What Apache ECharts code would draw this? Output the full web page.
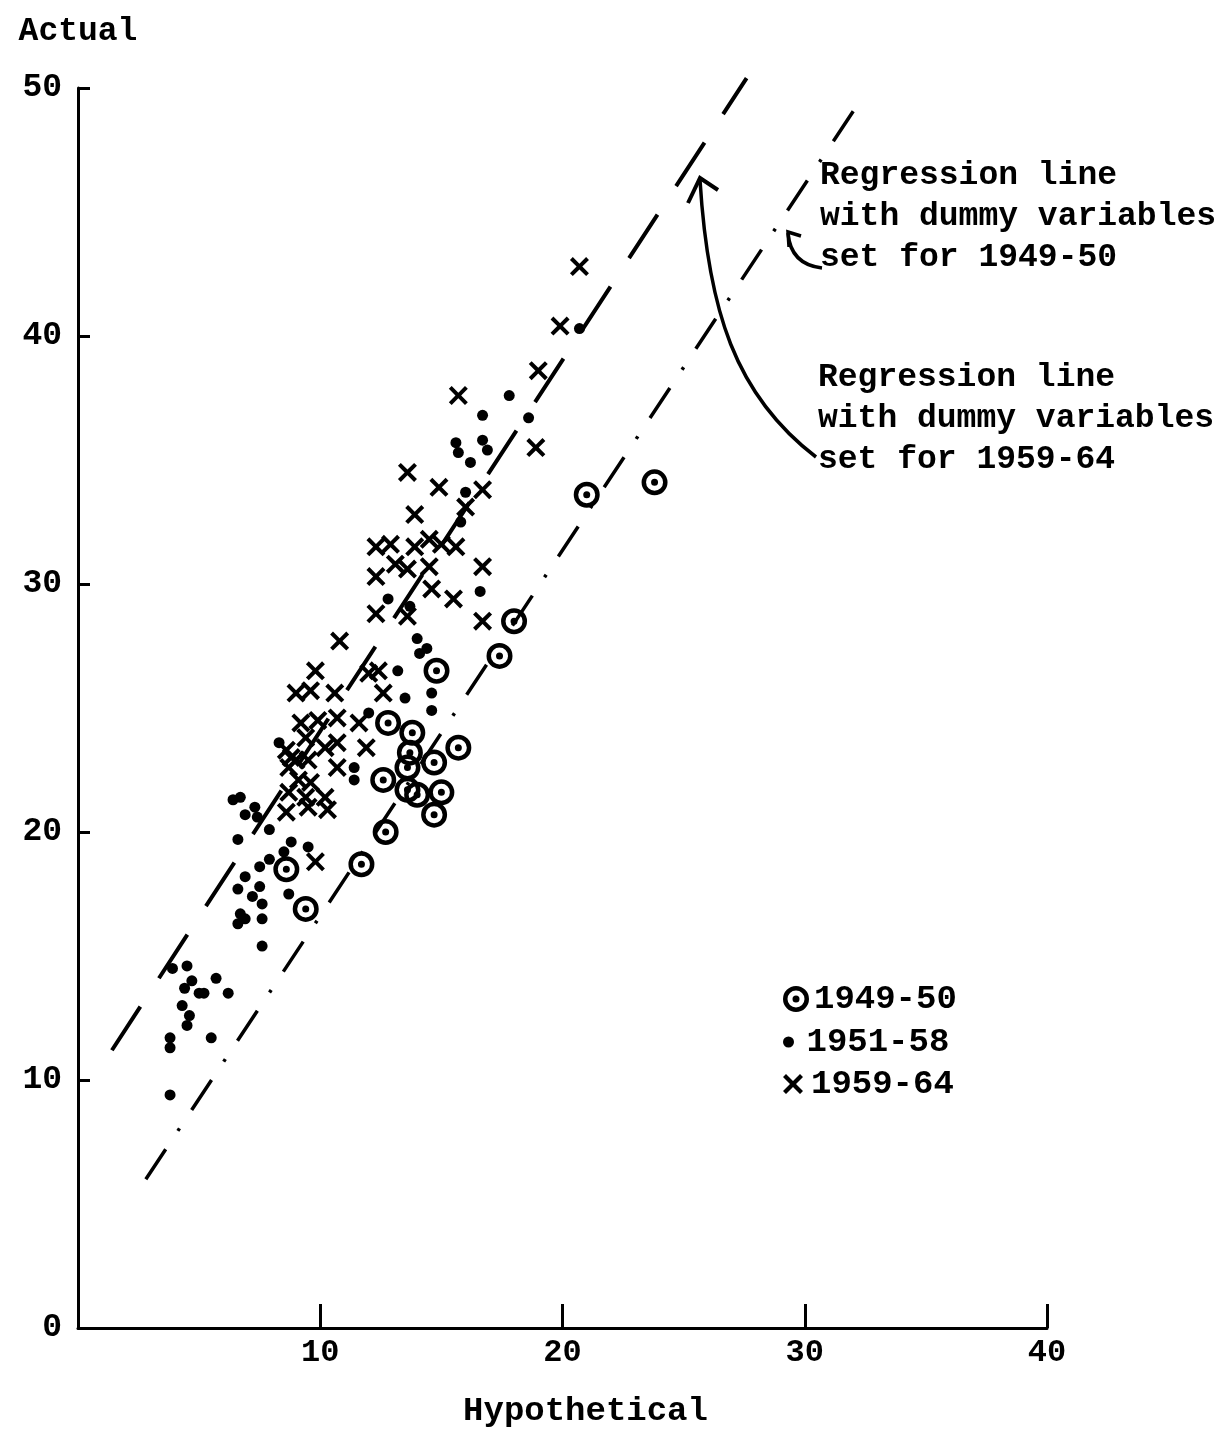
<!doctype html>
<html lang="en">
<head>
<meta charset="UTF-8">
<title>Actual vs Hypothetical</title>
<script src="https://cdn.jsdelivr.net/npm/echarts@6/dist/echarts.min.js"></script>
<style>
  html, body { margin: 0; padding: 0; background: #fff; }
  #chart { width: 1230px; height: 1434px; }
</style>
</head>
<body>
<div id="chart"></div>
<script>
// series names (legend)
var seriesNames = ['1949-50', '1951-58', '1959-64'];

// 1949-50 (circled dots)
var group4950 = [
  [21.0, 33.6], [23.8, 34.1], [18.0, 28.5], [17.4, 27.1], [14.8, 26.5],
  [12.8, 24.4], [15.7, 23.4], [13.8, 24.0], [13.7, 23.2], [13.6, 22.6],
  [14.7, 22.8], [12.6, 22.1], [13.6, 21.7], [14.0, 21.5], [15.0, 21.6],
  [14.7, 20.7], [12.7, 20.0], [11.7, 18.7], [8.6, 18.5], [9.4, 16.9]
];

// 1951-58 (dots)
var group5158 = [
  [17.8, 37.6], [16.7, 36.8], [18.6, 36.7], [15.6, 35.7], [16.7, 35.8],
  [16.9, 35.4], [15.7, 35.3], [16.2, 34.9], [16.0, 33.7], [15.8, 32.5],
  [16.6, 29.7], [12.8, 29.4], [13.7, 29.1], [14.0, 27.8], [14.4, 27.4],
  [14.1, 27.2], [13.2, 26.5], [14.6, 25.6], [14.6, 24.9], [13.5, 25.4],
  [12.0, 24.8], [11.4, 22.6], [11.4, 22.1], [8.3, 23.6], [20.7, 40.3],
  [6.4, 21.3], [6.7, 21.4], [6.9, 20.7], [7.3, 21.0], [7.4, 20.6],
  [7.9, 20.1], [6.6, 19.7], [8.8, 19.6], [9.5, 19.4], [8.5, 19.2],
  [7.9, 18.9], [7.5, 18.6], [6.9, 18.2], [7.5, 17.8], [6.6, 17.7],
  [7.2, 17.4], [7.6, 17.1], [8.7, 17.5], [6.7, 16.7], [7.6, 16.5],
  [6.6, 16.3], [6.9, 16.5], [7.6, 15.4], [3.9, 14.5], [4.5, 14.6],
  [4.7, 14.0], [5.7, 14.1], [6.2, 13.5], [4.4, 13.7], [5.0, 13.5],
  [5.2, 13.5], [4.3, 13.0], [4.6, 12.6], [4.5, 12.2], [5.5, 11.7],
  [3.8, 11.7], [3.8, 11.3], [3.8, 9.4]
];

// 1959-64 (crosses)
var group5964 = [
  [20.7, 42.8], [19.9, 40.4], [19.0, 38.6], [18.9, 35.5], [15.7, 37.6],
  [13.6, 34.5], [14.9, 33.9], [16.7, 33.8], [16.0, 33.1], [13.9, 32.8],
  [12.3, 31.5], [12.9, 31.6], [13.9, 31.5], [14.5, 31.8], [15.0, 31.6],
  [15.6, 31.5], [13.1, 30.8], [13.6, 30.6], [14.5, 30.7], [12.3, 30.3],
  [16.7, 30.7], [14.6, 29.8], [15.5, 29.4], [12.3, 28.8], [13.6, 28.7],
  [16.7, 28.5], [10.8, 27.7], [12.4, 26.5], [12.0, 26.4], [12.6, 25.6],
  [9.8, 26.5], [9.0, 25.6], [9.6, 25.7], [10.6, 25.6], [10.7, 24.6],
  [11.6, 24.4], [9.2, 24.4], [9.9, 24.5], [11.9, 23.4], [10.7, 23.6],
  [10.2, 23.4], [9.4, 23.8], [8.8, 23.0], [9.5, 22.9], [10.7, 22.6],
  [9.1, 22.1], [9.6, 22.0], [8.7, 21.6], [9.4, 21.4], [10.2, 21.4],
  [8.6, 20.8], [9.5, 21.0], [10.3, 20.9], [9.8, 18.8], [9.0, 22.9],
  [8.7, 22.6], [8.6, 23.3]
];

// regression lines (end points)
var line5964 = [[1.4, 11.2], [27.6, 50.4]];
var line4950 = [[2.8, 6.0], [32.5, 49.8]];

var FONT = '"Liberation Mono", "DejaVu Sans Mono", monospace';

var ringPath = 'path://M13,0 A13,13 0 1,1 13,26 A13,13 0 1,1 13,0 Z M13,4.5 A8.5,8.5 0 1,0 13,21.5 A8.5,8.5 0 1,0 13,4.5 Z M13,9.5 A3.5,3.5 0 1,1 13,16.5 A3.5,3.5 0 1,1 13,9.5 Z';
var crossPath = 'path://M0,3 L3,0 L10,7 L17,0 L20,3 L13,10 L20,17 L17,20 L10,13 L3,20 L0,17 L7,10 Z';

var chart = echarts.init(document.getElementById('chart'));

function legendFor(name, top, h, icon) {
  return {
    data: [name],
    left: 778,
    top: top,
    icon: icon,
    itemWidth: 26,
    itemHeight: h,
    selectedMode: false,
    textStyle: { fontFamily: FONT, fontSize: 34, fontWeight: 'bold', color: '#000' }
  };
}

var option = {
  backgroundColor: '#fff',
  animation: false,
  grid: { left: 78, right: 183, top: 88, bottom: 106 },
  legend: [
    legendFor(seriesNames[0], 977, 26, ringPath),
    legendFor(seriesNames[1], 1020, 11, 'circle'),
    legendFor(seriesNames[2], 1062, 20, crossPath)
  ],
  xAxis: {
    type: 'value', min: 0, max: 40, interval: 10,
    name: 'Hypothetical', nameLocation: 'middle', nameGap: 66,
    nameTextStyle: { fontFamily: FONT, fontSize: 34, fontWeight: 'bold', color: '#000', padding: [0, 0, 0, 46] },
    axisLine: { lineStyle: { color: '#000', width: 3 } },
    axisTick: { inside: true, length: 24, lineStyle: { color: '#000', width: 3 } },
    axisLabel: { fontFamily: FONT, fontSize: 32, fontWeight: 'bold', color: '#000', margin: 9,
      formatter: function (v) { return v === 0 ? '' : v; } },
    splitLine: { show: false }
  },
  yAxis: {
    type: 'value', min: 0, max: 50, interval: 10,
    name: 'Actual', nameLocation: 'end', nameGap: 40,
    nameTextStyle: { fontFamily: FONT, fontSize: 33, fontWeight: 'bold', color: '#000' },
    axisLine: { lineStyle: { color: '#000', width: 3 } },
    axisTick: { inside: true, length: 12, lineStyle: { color: '#000', width: 3 } },
    axisLabel: { fontFamily: FONT, fontSize: 33, fontWeight: 'bold', color: '#000', margin: 16 },
    splitLine: { show: false }
  },
  series: [
    {
      name: seriesNames[0], type: 'scatter', data: group4950,
      symbol: ringPath, symbolSize: 26, itemStyle: { color: '#000', opacity: 1 }
    },
    {
      name: seriesNames[1], type: 'scatter', data: group5158,
      symbol: 'circle', symbolSize: 11, itemStyle: { color: '#000', opacity: 1 }
    },
    {
      name: seriesNames[2], type: 'scatter', data: group5964,
      symbol: crossPath, symbolSize: 19, itemStyle: { color: '#000', opacity: 1 }
    },
    {
      name: 'Regression 1959-64', type: 'line', data: line5964, clip: false,
      symbol: 'none', silent: true,
      lineStyle: { color: '#000', width: 4, type: [52, 34] }
    },
    {
      name: 'Regression 1949-50', type: 'line', data: line4950, clip: false,
      symbol: 'none', silent: true,
      lineStyle: { color: '#000', width: 3.5, type: [36, 22, 3, 22] }
    }
  ],
  graphic: [
    {
      type: 'text', left: 820, top: 155,
      style: {
        text: 'Regression line\nwith dummy variables\nset for 1949-50',
        font: 'bold 33px ' + FONT, lineHeight: 41, fill: '#000'
      }
    },
    {
      type: 'text', left: 818, top: 357,
      style: {
        text: 'Regression line\nwith dummy variables\nset for 1959-64',
        font: 'bold 33px ' + FONT, lineHeight: 41, fill: '#000'
      }
    },
    {
      type: 'bezierCurve',
      shape: { x1: 816, y1: 457, cpx1: 735, cpy1: 395, cpx2: 708, cpy2: 310, x2: 700, y2: 180 },
      style: { stroke: '#000', lineWidth: 3.5, fill: null }
    },
    {
      type: 'polyline',
      shape: { points: [[688, 203], [700, 178], [718, 190]] },
      style: { stroke: '#000', lineWidth: 4, fill: null }
    },
    {
      type: 'bezierCurve',
      shape: { x1: 788, y1: 233, cpx1: 790, cpy1: 258, cpx2: 805, cpy2: 266, x2: 822, y2: 268 },
      style: { stroke: '#000', lineWidth: 3.5, fill: null }
    },
    {
      type: 'polyline',
      shape: { points: [[801, 236], [788, 232], [789, 247]] },
      style: { stroke: '#000', lineWidth: 3.5, fill: null }
    }
  ]
};

chart.setOption(option);
</script>
</body>
</html>
